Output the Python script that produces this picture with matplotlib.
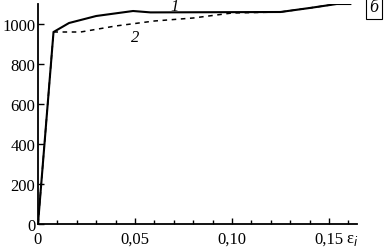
import matplotlib
matplotlib.use("Agg")
import matplotlib.pyplot as plt
from matplotlib.ticker import MultipleLocator, FixedLocator, FixedFormatter

plt.rcParams['font.family'] = ['Liberation Serif', 'DejaVu Serif']

eps1 = [0, 0.008, 0.016, 0.03, 0.049, 0.058, 0.125, 0.14, 0.154, 0.161]
sig1 = [0, 960, 1005, 1040, 1065, 1058, 1060, 1080, 1100, 1100]
eps2 = [0, 0.008, 0.022, 0.04, 0.06, 0.08, 0.10, 0.125, 0.14, 0.154, 0.161]
sig2 = [0, 960, 960, 990, 1015, 1030, 1055, 1060, 1080, 1100, 1100]

xticks = [0, 0.05, 0.10, 0.15]
xticklabels = ["0", "0,05", "0,10", "0,15"]
yticks = [0, 200, 400, 600, 800, 1000]

fig = plt.figure(figsize=(3.84, 2.53), dpi=100)
ax = fig.add_axes([38/384, 1-225/253, (357-38)/384, 220/253])
ax.plot(eps1, sig1, color='black', lw=1.5, solid_joinstyle='round')
ax.plot(eps2, sig2, color='black', lw=1.1, ls=(0, (3, 3)))

ax.set_xlim(0, (357-38)/1940)
ax.set_ylim(0, 1100)
for s in ['top', 'right']:
    ax.spines[s].set_visible(False)
for s in ['left', 'bottom']:
    ax.spines[s].set_linewidth(1.3)

ax.xaxis.set_major_locator(FixedLocator(xticks))
ax.xaxis.set_major_formatter(FixedFormatter(xticklabels))
ax.xaxis.set_minor_locator(MultipleLocator(0.01))
ax.yaxis.set_major_locator(FixedLocator(yticks))
ax.tick_params(axis='both', which='both', direction='in', labelsize=12, width=1)
ax.tick_params(axis='both', which='major', length=4)
ax.tick_params(axis='x', which='minor', length=3)
ax.tick_params(axis='x', pad=5)
ax.tick_params(axis='y', pad=2)

ax.text(0.0706, 1092, "1", style='italic', fontsize=12, ha='center', va='center')
ax.text(0.05, 935, "2", style='italic', fontsize=12, ha='center', va='center')

fig.text(352/384, 1-240/253, r"ε$_i$", fontsize=12, ha='center', va='center')
fig.text(374/384, 1-8/253, "б", style='italic', fontsize=13, ha='center', va='center',
         bbox=dict(boxstyle='square,pad=0.2', fc='white', ec='black', lw=0.8))

fig.savefig("out.png", dpi=100)
